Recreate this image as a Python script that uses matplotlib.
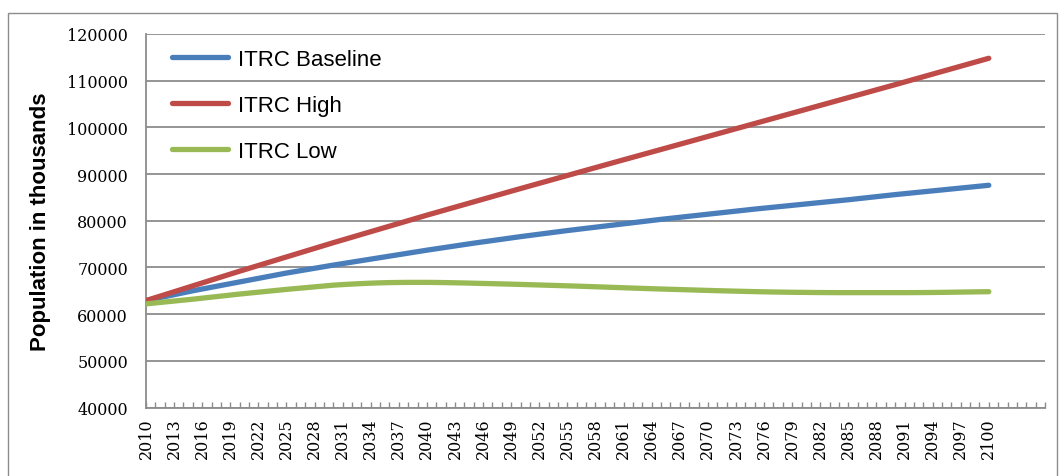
import matplotlib.pyplot as plt
from matplotlib.patches import Rectangle

# ITRC population projections, thousands, one value per year 2010-2100
years = list(range(2010, 2101))

itrc_baseline = [
    62900, 63320, 63740, 64160, 64580, 65000, 65380, 65760, 66140, 66520, 66900,
    67280, 67660, 68040, 68420, 68800, 69140, 69480, 69820, 70160, 70500,
    70820, 71140, 71460, 71780, 72100, 72420, 72740, 73060, 73380, 73700,
    74000, 74300, 74600, 74900, 75200, 75480, 75760, 76040, 76320, 76600,
    76860, 77120, 77380, 77640, 77900, 78140, 78380, 78620, 78860, 79100,
    79340, 79580, 79820, 80060, 80300, 80520, 80740, 80960, 81180, 81400,
    81620, 81840, 82060, 82280, 82500, 82700, 82900, 83100, 83300, 83500,
    83700, 83900, 84100, 84300, 84500, 84720, 84940, 85160, 85380, 85600,
    85800, 86000, 86200, 86400, 86600, 86800, 87000, 87200, 87400, 87600,
]

itrc_high = [
    62900, 63530, 64160, 64790, 65420, 66050, 66680, 67310, 67940, 68570, 69200,
    69810, 70420, 71030, 71640, 72250, 72860, 73470, 74080, 74690, 75300,
    75890, 76480, 77070, 77660, 78250, 78840, 79430, 80020, 80610, 81200,
    81770, 82340, 82910, 83480, 84050, 84620, 85190, 85760, 86330, 86900,
    87460, 88020, 88580, 89140, 89700, 90260, 90820, 91380, 91940, 92500,
    93055, 93610, 94165, 94720, 95275, 95830, 96385, 96940, 97495, 98050,
    98605, 99160, 99715, 100270, 100825, 101380, 101935, 102490, 103045, 103600,
    104155, 104710, 105265, 105820, 106375, 106930, 107485, 108040, 108595, 109150,
    109715, 110280, 110845, 111410, 111975, 112540, 113105, 113670, 114235, 114800,
]

itrc_low = [
    62200, 62400, 62600, 62800, 63000, 63200, 63420, 63640, 63860, 64080, 64300,
    64500, 64700, 64900, 65100, 65300, 65480, 65660, 65840, 66020, 66200,
    66330, 66440, 66540, 66630, 66700, 66750, 66780, 66800, 66800, 66800,
    66780, 66750, 66710, 66670, 66620, 66570, 66520, 66470, 66420, 66360,
    66300, 66240, 66180, 66120, 66060, 66000, 65930, 65860, 65790, 65720,
    65650, 65580, 65510, 65440, 65380, 65320, 65260, 65200, 65140, 65080,
    65020, 64970, 64920, 64870, 64820, 64780, 64740, 64710, 64680, 64660,
    64640, 64620, 64610, 64600, 64600, 64600, 64600, 64600, 64600, 64600,
    64600, 64610, 64620, 64640, 64660, 64690, 64720, 64750, 64780, 64800,
]

series_names = ['ITRC Baseline', 'ITRC High', 'ITRC Low']
series_colors = ['#4a7ebb', '#be4b48', '#98b954']

W, H = 1064, 477
fig = plt.figure(figsize=(W / 100, H / 100), dpi=100)
ax = fig.add_axes([146 / W, 1 - 408.5 / H, (1045 - 146) / W, (408.5 - 35) / H])

# outer chart border
fig.patches.append(Rectangle((8 / W, -0.02), (1057 - 8) / W, 1.02 - 14 / H,
                             transform=fig.transFigure, fill=False,
                             edgecolor='#8c8c8c', linewidth=1.0))

for vals, name, col in zip([itrc_baseline, itrc_high, itrc_low], series_names, series_colors):
    ax.plot(years, vals, color=col, linewidth=3.8, label=name,
            solid_capstyle='round', solid_joinstyle='round', zorder=3)

ax.set_ylim(40000, 120000)
ax.set_yticks(range(40000, 120001, 10000))
ax.set_yticklabels([str(v) for v in range(40000, 120001, 10000)],
                   fontfamily='DejaVu Serif', fontsize=11.5)
ax.yaxis.grid(True, color='#8c8c8c', linewidth=1.3)
ax.set_axisbelow(True)

# one tick per year, a label every third year
tick_years = list(range(2010, 2107))
ax.set_xlim(2010, 2106)
ax.set_xticks(tick_years)
ax.set_xticklabels([str(y) if (y - 2010) % 3 == 0 and y <= 2100 else '' for y in tick_years],
                   rotation=90, fontfamily='DejaVu Serif', fontsize=11.5)

ax.tick_params(axis='x', direction='in', length=4, width=1, color='#8c8c8c', pad=7)
ax.tick_params(axis='y', length=0, pad=13)

for s in ['top', 'right']:
    ax.spines[s].set_visible(False)
for s in ['left', 'bottom']:
    ax.spines[s].set_color('#8c8c8c')
    ax.spines[s].set_linewidth(1.3)

fig.text(41 / W, 1 - 222 / H, 'Population in thousands', rotation=90,
         ha='center', va='center', fontsize=16, fontweight='bold',
         fontfamily='Liberation Sans')

ax.legend(loc='upper left', bbox_to_anchor=(172 / W, 1 - 50 / H),
          bbox_transform=fig.transFigure, frameon=False,
          prop={'family': 'Liberation Sans', 'size': 16},
          handlelength=2.5, handletextpad=0.45, labelspacing=1.12,
          borderpad=0, borderaxespad=0)

fig.savefig('out.png', dpi=100)
